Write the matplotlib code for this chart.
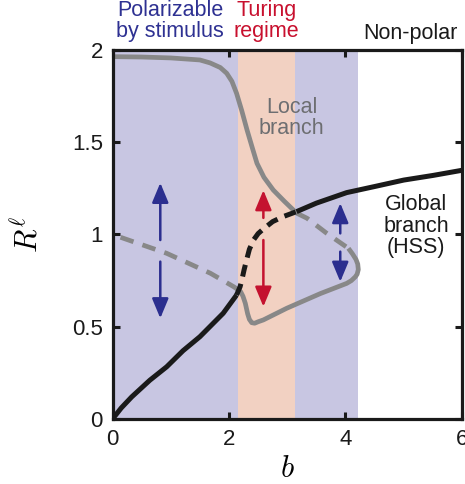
import matplotlib
matplotlib.use("Agg")
import matplotlib.pyplot as plt

plt.rcParams['font.family'] = ['Liberation Sans', 'DejaVu Sans']
plt.rcParams['mathtext.fontset'] = 'cm'

# ---- data ----
# Global branch (HSS), black
global_solid1_b = [0, 0.15, 0.33, 0.64, 0.93, 1.21, 1.5, 1.9, 2.13]
global_solid1_R = [0, 0.06, 0.12, 0.21, 0.283, 0.37, 0.446, 0.573, 0.672]
global_dash_b = [2.13, 2.19, 2.22, 2.26, 2.30, 2.35, 2.42, 2.50, 2.59, 2.75, 2.93, 3.16]
global_dash_R = [0.672, 0.717, 0.753, 0.81, 0.86, 0.92, 0.97, 1.005, 1.03, 1.07, 1.097, 1.124]
global_solid2_b = [3.16, 3.5, 4.02, 4.5, 5.0, 5.5, 6.0]
global_solid2_R = [1.124, 1.17, 1.227, 1.26, 1.295, 1.32, 1.348]

# Local branch, gray
local_upper_b = [0, 0.5, 1.0, 1.5, 1.675, 1.85, 1.96, 2.05, 2.13, 2.22, 2.31, 2.40, 2.48, 2.6, 2.76, 2.95, 3.16]
local_upper_R = [1.964, 1.962, 1.957, 1.946, 1.93, 1.905, 1.874, 1.83, 1.765, 1.67, 1.566, 1.47, 1.386, 1.31, 1.241, 1.18, 1.116]
local_dash1_b = [3.16, 3.34, 3.68, 4.05]
local_dash1_R = [1.116, 1.088, 1.006, 0.925]
local_fold_b = [4.05, 4.12, 4.18, 4.21, 4.22, 4.2, 4.17, 4.1, 4.02, 3.57, 2.99, 2.59, 2.50, 2.44, 2.39, 2.35, 2.32, 2.28, 2.24, 2.2, 2.16]
local_fold_R = [0.925, 0.895, 0.865, 0.84, 0.81, 0.785, 0.771, 0.75, 0.735, 0.68, 0.60, 0.537, 0.527, 0.519, 0.522, 0.54, 0.57, 0.627, 0.665, 0.69, 0.70]
local_dash2_b = [2.16, 2.08, 1.68, 0.93, 0.0]
local_dash2_R = [0.70, 0.717, 0.79, 0.898, 1.0]

# shaded regimes
polar1 = (0.0, 2.156)
turing = (2.156, 3.14)
polar2 = (3.14, 4.22)

# arrows: (b, R_start, R_end)
blue_arrows = [(0.82, 0.97, 1.28), (0.82, 0.853, 0.546), (3.91, 1.006, 1.17), (3.91, 0.907, 0.744)]
red_arrows = [(2.59, 1.09, 1.24), (2.59, 0.97, 0.609)]

xticks = [0, 2, 4, 6]
yticks = [0, 0.5, 1, 1.5, 2]
ytick_labels = ['0', '0.5', '1', '1.5', '2']

# ---- figure ----
fig = plt.figure(figsize=(4.65, 4.84), dpi=100)
ax = fig.add_axes([0.242, 0.1343, 0.7515, 0.7624])

blue_shade = '#c8c6e2'
pink_shade = '#f2d1c2'
ax.axvspan(*polar1, color=blue_shade, lw=0, zorder=0)
ax.axvspan(*turing, color=pink_shade, lw=0, zorder=0)
ax.axvspan(*polar2, color=blue_shade, lw=0, zorder=0)

gray = '#888888'
black = '#1a1a1a'
lw_g = 3.4
lw_k = 3.6

ax.plot(local_upper_b, local_upper_R, color=gray, lw=lw_g, solid_capstyle='butt', solid_joinstyle='round', zorder=2)
ax.plot(local_dash1_b, local_dash1_R, color=gray, lw=lw_g, dashes=(2.9, 2.0), zorder=2)
ax.plot(local_fold_b, local_fold_R, color=gray, lw=lw_g, solid_capstyle='butt', solid_joinstyle='round', zorder=2)
ax.plot(local_dash2_b, local_dash2_R, color=gray, lw=lw_g, dashes=(2.9, 2.0), zorder=2)

ax.plot(global_solid1_b, global_solid1_R, color=black, lw=lw_k, solid_capstyle='butt', solid_joinstyle='round', zorder=3)
ax.plot(global_dash_b, global_dash_R, color=black, lw=lw_k, dashes=(2.4, 1.5), zorder=3)
ax.plot(global_solid2_b, global_solid2_R, color=black, lw=lw_k, solid_capstyle='butt', solid_joinstyle='round', zorder=3)

blue = '#2b2e8f'
red = '#c4122f'
style = '-|>,head_length=1.2,head_width=0.5'
for b, r0, r1 in blue_arrows:
    ax.annotate('', xy=(b, r1), xytext=(b, r0),
                arrowprops=dict(arrowstyle=style, color=blue, lw=1.8, shrinkA=0, shrinkB=0), zorder=4)
for b, r0, r1 in red_arrows:
    ax.annotate('', xy=(b, r1), xytext=(b, r0),
                arrowprops=dict(arrowstyle=style, color=red, lw=1.8, shrinkA=0, shrinkB=0), zorder=4)

fs = 15.5
ax.text(0.99, 2.157, 'Polarizable\nby stimulus', color='#2e3192', fontsize=fs,
        ha='center', va='center', linespacing=1.05, clip_on=False)
ax.text(2.64, 2.157, 'Turing\nregime', color='#c8102e', fontsize=fs,
        ha='center', va='center', linespacing=1.05, clip_on=False)
ax.text(5.11, 2.092, 'Non-polar', color='#1a1a1a', fontsize=fs,
        ha='center', va='center', clip_on=False)
ax.text(3.075, 1.63, 'Local\nbranch', color='#6d6e71', fontsize=fs,
        ha='center', va='center', linespacing=1.0, zorder=5)
ax.text(5.21, 1.046, 'Global\nbranch\n(HSS)', color='#1a1a1a', fontsize=fs,
        ha='center', va='center', linespacing=1.05, zorder=5)

ax.set_xlim(0, 6)
ax.set_ylim(0, 2)
ax.set_xticks(xticks)
ax.set_yticks(yticks)
ax.set_yticklabels(ytick_labels)
ax.tick_params(direction='in', length=5, width=2.2, labelsize=16, top=True, right=True,
               color=black, labelcolor=black, pad=7)
for s in ax.spines.values():
    s.set_linewidth(2.3)
    s.set_color(black)

ax.set_xlabel(r'$b$', fontsize=22, labelpad=3)
ax.set_ylabel(r'$R^{\ell}$', fontsize=22, labelpad=20)

fig.savefig('out.png', dpi=100)
